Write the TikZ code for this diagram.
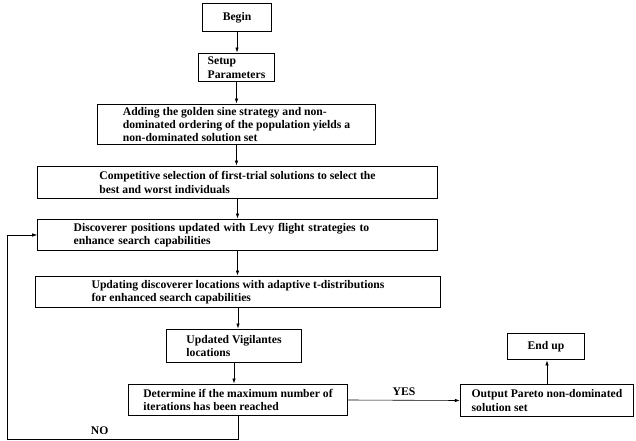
\documentclass[tikz,border=0pt]{standalone}
\usepackage{fontspec}
\setmainfont{Liberation Serif}
\usetikzlibrary{arrows.meta}

\begin{document}
\begin{tikzpicture}[
    x=1bp, y=-1bp,
    stepbox/.style={rectangle, draw=black, line width=1.1pt, align=left, inner sep=0pt, font=\bfseries\fontsize{11.7}{13.5}\selectfont},
    flow/.style={-{Latex[length=5pt,width=3.5pt]}, line width=0.6pt},
    tag/.style={font=\bfseries\fontsize{11.7}{13}\selectfont}
]
\useasboundingbox (0,0) rectangle (636,441);

% Main column
\node[stepbox, minimum width=69, minimum height=29] (begin) at (237,17.5) {Begin};
\node[stepbox, minimum width=77, minimum height=29] (setup) at (236.5,67.5) {Setup\\Parameters};
\node[stepbox, minimum width=279, minimum height=41] (golden) at (236.5,124.5) {Adding the golden sine strategy and non-\\dominated ordering of the population yields a\\non-dominated solution set};
\node[stepbox, minimum width=401, minimum height=33] (select) at (237.5,182.5) {Competitive selection of first-trial solutions to select the\\best and worst individuals};
\node[stepbox, minimum width=401, minimum height=32, text width=329] (levy) at (237.5,235) {Discoverer positions updated with Levy flight strategies to\\enhance search capabilities};
\node[stepbox, minimum width=406, minimum height=32] (tdist) at (238,292) {Updating discoverer locations with adaptive t-distributions\\for enhanced search capabilities};
\node[stepbox, minimum width=136, minimum height=34] (vigil) at (234,346) {Updated Vigilantes\\locations};
\node[stepbox, minimum width=220, minimum height=32] (check) at (238,400) {Determine if the maximum number of\\iterations has been reached};

% Right branch
\node[stepbox, minimum width=174, minimum height=33] (pareto) at (547,400.5) {Output Pareto non-dominated\\solution set};
\node[stepbox, minimum width=78, minimum height=27] (finish) at (546,346.5) {End up};

% Arrows down the main column
\foreach \a/\b in {begin/setup, setup/golden, golden/select, select/levy, levy/tdist, tdist/vigil, vigil/check}
    \draw[flow] (\a.south) -- (\a.south |- \b.north);

% Exit and loop back
\draw[flow] (check.east) -- (pareto.west) node[tag, midway, above=1pt] {YES};
\draw[flow] (pareto.north) -- (pareto.north |- finish.south);
\draw[flow] (check.south) -- ++(0,23) -| node[tag, pos=0.3, above=1pt] {NO} ([xshift=-30]levy.west) -- (levy.west);

\end{tikzpicture}
\end{document}
